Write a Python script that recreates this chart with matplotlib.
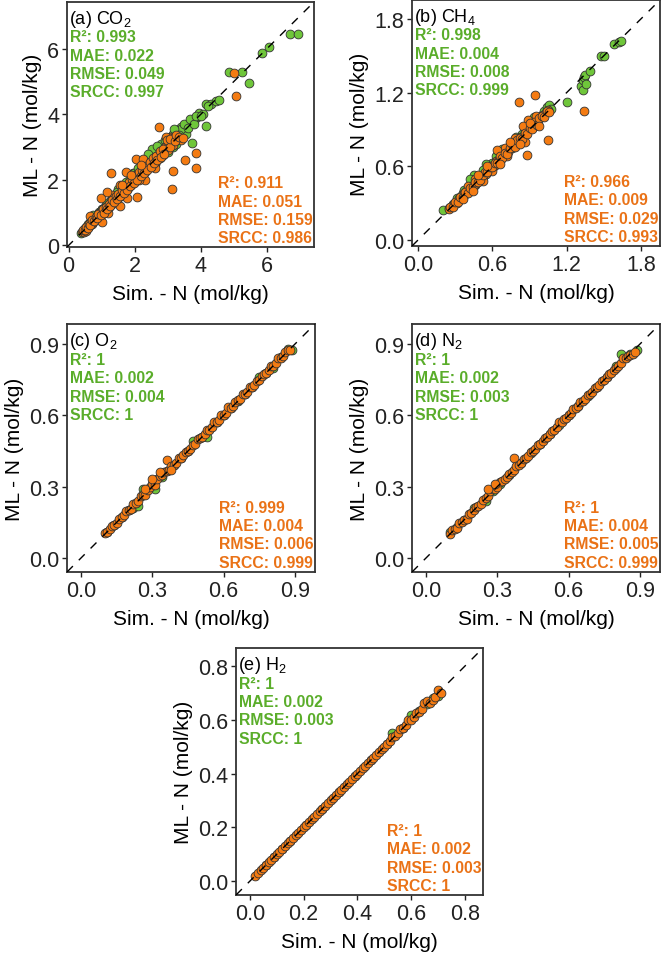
import numpy as np
import matplotlib
matplotlib.use("Agg")
import matplotlib.pyplot as plt

plt.rcParams["font.family"] = ["Liberation Sans", "DejaVu Sans"]
plt.rcParams["mathtext.fontset"] = "custom"
plt.rcParams["mathtext.rm"] = "Liberation Sans"
plt.rcParams["mathtext.it"] = "Liberation Sans:italic"
plt.rcParams["mathtext.bf"] = "Liberation Sans:bold"

# ---- data: (simulated, ML) pairs ----
co2_train = [(0.38, 0.38), (0.42, 0.44), (0.45, 0.48), (0.50, 0.52), (0.55, 0.60), (0.60, 0.66),
             (0.65, 0.72), (0.68, 0.78), (0.72, 0.80), (0.78, 0.85), (0.82, 0.93), (0.88, 0.95),
             (0.92, 1.02), (0.98, 1.05), (1.02, 1.10), (1.08, 1.15), (1.12, 1.22), (1.18, 1.25),
             (1.22, 1.30), (1.28, 1.38), (1.35, 1.42), (1.40, 1.50), (1.45, 1.52), (1.52, 1.62),
             (1.58, 1.65), (1.62, 1.72), (1.70, 1.78), (1.75, 1.85), (1.82, 1.90), (1.88, 1.98),
             (1.95, 2.05), (2.00, 2.10), (2.08, 2.18), (2.15, 2.22), (2.20, 2.32), (2.28, 2.38),
             (2.35, 2.45), (2.40, 2.52), (2.48, 2.58), (2.55, 2.65), (2.62, 2.72), (2.70, 2.80),
             (2.75, 2.85), (2.82, 2.92), (2.90, 2.98), (2.95, 3.05), (3.02, 3.12), (3.10, 3.20),
             (3.18, 3.25), (3.25, 3.30), (3.30, 3.42), (3.38, 3.48), (3.45, 3.55), (3.50, 3.60),
             (3.58, 3.68), (3.65, 3.72), (3.72, 3.82), (3.80, 3.80), (3.88, 3.90), (3.95, 4.05),
             (4.05, 4.02), (4.15, 4.30), (4.15, 3.65), (4.30, 4.30), (4.45, 4.40), (4.55, 4.42),
             (4.85, 5.30), (5.25, 5.30), (5.45, 4.95), (5.85, 5.88), (6.05, 6.05), (6.70, 6.45),
             (6.95, 6.45), (0.75, 0.92), (1.05, 1.00), (1.50, 1.72), (1.95, 2.20), (2.45, 2.45),
             (2.65, 2.92), (2.85, 2.75), (3.15, 3.00), (3.40, 3.62), (3.72, 3.12), (2.30, 2.55),
             (2.60, 2.48), (3.00, 2.85), (3.55, 3.40), (1.00, 1.12), (1.15, 1.28), (1.30, 1.45),
             (1.45, 1.62), (1.60, 1.78), (1.72, 1.92), (1.85, 2.05), (1.98, 2.22), (2.10, 2.35),
             (2.22, 2.48), (2.35, 2.62), (2.48, 2.75), (2.58, 2.88), (2.70, 3.00), (2.80, 3.10),
             (2.92, 3.22), (3.05, 3.30), (3.15, 3.40), (3.28, 3.52), (3.40, 3.55), (3.50, 3.70),
             (3.62, 3.58), (3.68, 3.85), (3.78, 3.70), (3.85, 3.95), (2.52, 2.95), (2.68, 3.02),
             (2.40, 2.80), (3.20, 3.55), (3.35, 3.35), (4.00, 3.95), (4.20, 4.25), (3.25, 3.10),
             (2.75, 2.65), (2.05, 2.00), (1.40, 1.35), (0.55, 0.52), (0.70, 0.68), (0.85, 0.90),
             (0.95, 0.98)]
co2_test = [(0.40, 0.42), (0.45, 0.40), (0.50, 0.50), (0.52, 0.45), (0.58, 0.55), (0.62, 0.60),
            (0.68, 0.72), (0.70, 0.65), (0.75, 0.70), (0.80, 0.82), (0.85, 0.80), (0.88, 0.92),
            (0.92, 0.88), (0.95, 1.00), (1.00, 0.95), (1.02, 1.05), (1.08, 1.02), (1.10, 1.15),
            (1.15, 1.10), (1.18, 1.22), (1.22, 1.18), (1.25, 1.30), (1.30, 1.25), (1.35, 1.35),
            (1.40, 1.45), (1.42, 1.38), (1.48, 1.50), (1.52, 1.48), (1.58, 1.62), (1.62, 1.55),
            (1.65, 1.70), (1.70, 1.68), (1.75, 1.80), (1.80, 1.75), (1.85, 1.90), (1.90, 1.85),
            (1.95, 2.00), (2.00, 1.95), (2.05, 2.10), (2.10, 2.05), (2.15, 2.20), (2.20, 2.15),
            (2.25, 2.35), (2.30, 2.25), (2.40, 2.45), (2.50, 2.55), (2.60, 2.50), (2.70, 2.75),
            (2.80, 2.85), (2.90, 3.00), (3.00, 3.10), (3.10, 3.30), (3.20, 3.30), (3.30, 3.25),
            (3.40, 3.20), (1.75, 1.45), (1.30, 1.55), (1.55, 1.85), (2.30, 2.00), (2.60, 2.35),
            (3.00, 2.90), (2.12, 2.00), (3.17, 3.05), (2.72, 3.60), (1.27, 2.22), (3.12, 1.71),
            (3.85, 2.36), (3.84, 2.82), (3.52, 2.60), (3.15, 2.28), (2.07, 1.46), (0.97, 1.43),
            (2.05, 2.63), (5.07, 4.55), (5.00, 5.25), (1.72, 2.25), (1.15, 1.62), (1.55, 1.20),
            (2.25, 2.62), (1.00, 0.70), (2.95, 3.30), (0.65, 0.90), (1.20, 1.00),
            (0.43, 0.47), (0.48, 0.46), (0.53, 0.56), (0.57, 0.52), (0.63, 0.66), (0.66, 0.61),
            (0.72, 0.76), (0.77, 0.74), (0.83, 0.86), (0.86, 0.83), (0.90, 0.96), (0.97, 0.93),
            (1.04, 1.10), (1.06, 0.99), (1.12, 1.18), (1.16, 1.12), (1.21, 1.27), (1.26, 1.21),
            (1.32, 1.38), (1.37, 1.31), (1.43, 1.50), (1.46, 1.42), (1.50, 1.58), (1.56, 1.52),
            (1.61, 1.68), (1.66, 1.60), (1.72, 1.78), (1.77, 1.70), (1.83, 1.92), (1.87, 1.80),
            (1.92, 2.02), (1.97, 1.90), (2.03, 2.15), (2.08, 2.00), (2.13, 2.25), (2.18, 2.10),
            (2.22, 2.30), (2.28, 2.20), (2.35, 2.42), (2.38, 2.30), (2.45, 2.55), (2.48, 2.40),
            (2.55, 2.65), (2.58, 2.50), (2.65, 2.72), (2.68, 2.60), (2.75, 2.88), (2.78, 2.70),
            (2.85, 2.95), (2.88, 2.80), (2.98, 3.20), (3.05, 3.00), (3.08, 3.25), (3.22, 3.18),
            (3.25, 3.35), (3.35, 3.30), (3.45, 3.28), (2.20, 2.45), (1.90, 2.15), (1.60, 1.85)]

ch4_train = [(0.20, 0.24), (0.25, 0.26), (0.28, 0.29), (0.30, 0.30), (0.32, 0.33), (0.34, 0.34),
             (0.35, 0.36), (0.36, 0.38), (0.38, 0.37), (0.40, 0.41), (0.42, 0.43), (0.44, 0.46),
             (0.45, 0.53), (0.46, 0.45), (0.48, 0.50), (0.50, 0.52), (0.52, 0.51), (0.54, 0.56),
             (0.56, 0.58), (0.58, 0.57), (0.60, 0.63), (0.62, 0.61), (0.64, 0.66), (0.66, 0.67),
             (0.68, 0.70), (0.70, 0.69), (0.72, 0.74), (0.74, 0.77), (0.76, 0.75), (0.78, 0.80),
             (0.80, 0.82), (0.82, 0.81), (0.84, 0.86), (0.86, 0.88), (0.88, 0.90), (0.90, 0.92),
             (0.92, 0.94), (0.95, 0.97), (0.98, 1.00), (1.00, 1.02), (1.02, 1.05), (1.04, 1.08),
             (1.06, 1.10), (1.07, 1.07), (1.20, 1.12), (1.32, 1.25), (1.33, 1.22), (1.33, 1.30),
             (1.34, 1.33), (1.35, 1.34), (1.36, 1.27), (1.39, 1.38), (1.48, 1.50), (1.50, 1.50),
             (1.58, 1.60), (1.62, 1.61), (1.64, 1.62), (0.42, 0.50), (0.55, 0.62), (0.68, 0.74),
             (0.31, 0.34), (0.37, 0.41), (0.52, 0.57), (0.63, 0.68), (0.79, 0.84), (0.94, 1.00)]
ch4_test = [(0.25, 0.25), (0.27, 0.28), (0.29, 0.29), (0.31, 0.30), (0.33, 0.34), (0.35, 0.34),
            (0.37, 0.38), (0.39, 0.40), (0.41, 0.40), (0.43, 0.44), (0.45, 0.45), (0.47, 0.46),
            (0.49, 0.50), (0.51, 0.52), (0.53, 0.53), (0.55, 0.54), (0.57, 0.58), (0.59, 0.60),
            (0.61, 0.60), (0.63, 0.64), (0.65, 0.66), (0.67, 0.66), (0.69, 0.70), (0.71, 0.72),
            (0.73, 0.72), (0.75, 0.76), (0.77, 0.78), (0.79, 0.78), (0.81, 0.82), (0.83, 0.84),
            (0.85, 0.84), (0.87, 0.88), (0.89, 0.90), (0.91, 0.92), (0.93, 0.95), (0.95, 0.96),
            (0.97, 0.98), (0.99, 1.00), (1.01, 1.02), (1.03, 1.04), (1.05, 1.06), (0.46, 0.50),
            (0.52, 0.48), (0.60, 0.56), (0.70, 0.75), (0.78, 0.83), (0.86, 0.80), (0.89, 0.98),
            (0.93, 0.92), (0.88, 0.90), (0.95, 1.01), (0.948, 1.18), (0.818, 1.12), (1.34, 1.05),
            (1.05, 0.81), (0.877, 0.69), (0.64, 0.73), (0.72, 0.68), (0.85, 0.93), (0.40, 0.44),
            (0.26, 0.27), (0.28, 0.27), (0.30, 0.31), (0.32, 0.31), (0.34, 0.35), (0.36, 0.35),
            (0.38, 0.39), (0.40, 0.38), (0.42, 0.42), (0.44, 0.43), (0.46, 0.47), (0.48, 0.47),
            (0.50, 0.49), (0.52, 0.53), (0.54, 0.55), (0.56, 0.55), (0.58, 0.59), (0.60, 0.59),
            (0.62, 0.63), (0.64, 0.63), (0.66, 0.68), (0.68, 0.67), (0.70, 0.71), (0.72, 0.70),
            (0.74, 0.75), (0.76, 0.78), (0.78, 0.76), (0.80, 0.81), (0.82, 0.83), (0.84, 0.82),
            (0.86, 0.87), (0.88, 0.86), (0.90, 0.91), (0.92, 0.90), (0.94, 0.96), (0.96, 0.94),
            (0.98, 0.99), (1.00, 1.01), (1.02, 1.00), (1.04, 1.05), (1.06, 1.04), (0.48, 0.53),
            (0.56, 0.60), (0.66, 0.62), (0.74, 0.80), (0.82, 0.78), (0.90, 0.95), (0.98, 0.93),
            (0.44, 0.40), (0.36, 0.33)]

o2_train = [(0.11, 0.11), (0.14, 0.14), (0.17, 0.17), (0.20, 0.20), (0.22, 0.21), (0.23, 0.23),
            (0.26, 0.29), (0.27, 0.28), (0.30, 0.30), (0.34, 0.34), (0.39, 0.39), (0.42, 0.42),
            (0.45, 0.45), (0.47, 0.49), (0.51, 0.51), (0.53, 0.51), (0.57, 0.57), (0.60, 0.60),
            (0.63, 0.63), (0.66, 0.66), (0.69, 0.69), (0.72, 0.72), (0.75, 0.76), (0.78, 0.78),
            (0.81, 0.80), (0.84, 0.845), (0.87, 0.88), (0.89, 0.875), (0.24, 0.22), (0.31, 0.29)]
o2_test = [(0.10, 0.105), (0.11, 0.11), (0.12, 0.12), (0.13, 0.135), (0.14, 0.14), (0.15, 0.145),
           (0.16, 0.165), (0.17, 0.17), (0.18, 0.18), (0.19, 0.195), (0.20, 0.20), (0.21, 0.205),
           (0.22, 0.225), (0.23, 0.23), (0.24, 0.24), (0.25, 0.26), (0.26, 0.265), (0.27, 0.265),
           (0.28, 0.285), (0.29, 0.30), (0.30, 0.31), (0.31, 0.305), (0.32, 0.33), (0.33, 0.345),
           (0.34, 0.35), (0.35, 0.36), (0.36, 0.41), (0.36, 0.365), (0.37, 0.37), (0.38, 0.385),
           (0.39, 0.39), (0.40, 0.40), (0.41, 0.42), (0.42, 0.42), (0.43, 0.435), (0.44, 0.445),
           (0.45, 0.45), (0.46, 0.46), (0.47, 0.475), (0.48, 0.48), (0.49, 0.50), (0.50, 0.505),
           (0.51, 0.51), (0.52, 0.52), (0.53, 0.54), (0.54, 0.54), (0.55, 0.55), (0.56, 0.57),
           (0.57, 0.57), (0.58, 0.58), (0.59, 0.60), (0.60, 0.60), (0.61, 0.61), (0.62, 0.635),
           (0.63, 0.63), (0.64, 0.64), (0.65, 0.655), (0.66, 0.665), (0.67, 0.67), (0.68, 0.69),
           (0.69, 0.69), (0.70, 0.70), (0.71, 0.72), (0.72, 0.72), (0.73, 0.73), (0.74, 0.745),
           (0.75, 0.75), (0.76, 0.765), (0.77, 0.775), (0.78, 0.78), (0.79, 0.79), (0.80, 0.81),
           (0.81, 0.81), (0.82, 0.82), (0.83, 0.84), (0.84, 0.84), (0.85, 0.85), (0.86, 0.865),
           (0.87, 0.875), (0.88, 0.875), (0.30, 0.33), (0.33, 0.36), (0.27, 0.29), (0.38, 0.37)]

n2_train = [(0.10, 0.11), (0.13, 0.13), (0.16, 0.16), (0.20, 0.21), (0.25, 0.24), (0.28, 0.28),
            (0.31, 0.31), (0.35, 0.35), (0.40, 0.40), (0.44, 0.44), (0.48, 0.48), (0.52, 0.52),
            (0.56, 0.56), (0.60, 0.60), (0.64, 0.64), (0.68, 0.68), (0.72, 0.72), (0.76, 0.76),
            (0.80, 0.81), (0.82, 0.86), (0.86, 0.86), (0.89, 0.875)]
n2_test = [(0.10, 0.10), (0.11, 0.115), (0.12, 0.12), (0.13, 0.125), (0.14, 0.145), (0.15, 0.15),
           (0.16, 0.16), (0.17, 0.165), (0.18, 0.185), (0.19, 0.19), (0.20, 0.20), (0.21, 0.215),
           (0.22, 0.22), (0.23, 0.225), (0.24, 0.245), (0.25, 0.25), (0.26, 0.26), (0.27, 0.28),
           (0.28, 0.29), (0.29, 0.29), (0.30, 0.30), (0.31, 0.32), (0.32, 0.325), (0.33, 0.33),
           (0.34, 0.34), (0.35, 0.355), (0.36, 0.36), (0.37, 0.42), (0.37, 0.37), (0.38, 0.385),
           (0.39, 0.39), (0.40, 0.40), (0.41, 0.415), (0.42, 0.42), (0.43, 0.43), (0.44, 0.445),
           (0.45, 0.45), (0.46, 0.46), (0.47, 0.475), (0.48, 0.48), (0.49, 0.49), (0.50, 0.505),
           (0.51, 0.51), (0.52, 0.52), (0.53, 0.535), (0.54, 0.54), (0.55, 0.55), (0.56, 0.57),
           (0.57, 0.57), (0.58, 0.585), (0.59, 0.59), (0.60, 0.60), (0.61, 0.61), (0.62, 0.625),
           (0.63, 0.63), (0.64, 0.64), (0.65, 0.655), (0.66, 0.66), (0.67, 0.67), (0.68, 0.685),
           (0.69, 0.69), (0.70, 0.70), (0.71, 0.715), (0.72, 0.72), (0.73, 0.73), (0.74, 0.745),
           (0.75, 0.75), (0.76, 0.76), (0.77, 0.775), (0.78, 0.78), (0.79, 0.79), (0.80, 0.80),
           (0.81, 0.81), (0.82, 0.82), (0.83, 0.84), (0.84, 0.84), (0.85, 0.85), (0.86, 0.855),
           (0.87, 0.86), (0.88, 0.865), (0.26, 0.29), (0.29, 0.31)]

h2_train = [(0.06, 0.06), (0.09, 0.09), (0.12, 0.12), (0.15, 0.15), (0.21, 0.21), (0.27, 0.27),
            (0.33, 0.33), (0.39, 0.39), (0.45, 0.45), (0.51, 0.51), (0.53, 0.55), (0.57, 0.57),
            (0.60, 0.62), (0.63, 0.635), (0.66, 0.66), (0.68, 0.68), (0.70, 0.69)]
h2_test = [(0.02, 0.02), (0.03, 0.03), (0.04, 0.04), (0.05, 0.05), (0.06, 0.06), (0.07, 0.07),
           (0.08, 0.08), (0.09, 0.09), (0.10, 0.10), (0.11, 0.11), (0.12, 0.12), (0.13, 0.13),
           (0.14, 0.14), (0.15, 0.15), (0.16, 0.16), (0.17, 0.17), (0.18, 0.18), (0.19, 0.19),
           (0.20, 0.20), (0.21, 0.21), (0.22, 0.22), (0.23, 0.23), (0.24, 0.24), (0.25, 0.25),
           (0.26, 0.26), (0.27, 0.27), (0.28, 0.28), (0.29, 0.29), (0.30, 0.30), (0.31, 0.31),
           (0.32, 0.32), (0.33, 0.33), (0.34, 0.34), (0.35, 0.35), (0.36, 0.36), (0.37, 0.37),
           (0.38, 0.38), (0.39, 0.39), (0.40, 0.40), (0.41, 0.41), (0.42, 0.42), (0.43, 0.43),
           (0.44, 0.44), (0.45, 0.45), (0.46, 0.46), (0.47, 0.47), (0.48, 0.48), (0.49, 0.49),
           (0.50, 0.50), (0.51, 0.51), (0.52, 0.52), (0.53, 0.535), (0.54, 0.54), (0.55, 0.55),
           (0.56, 0.565), (0.57, 0.57), (0.58, 0.58), (0.59, 0.60), (0.60, 0.60), (0.61, 0.61),
           (0.62, 0.625), (0.63, 0.63), (0.64, 0.64), (0.65, 0.665), (0.66, 0.67), (0.67, 0.665),
           (0.68, 0.675), (0.69, 0.685), (0.70, 0.71), (0.71, 0.70)]

titles = ["(a) CO$_2$", "(b) CH$_4$", "(c) O$_2$", "(d) N$_2$", "(e) H$_2$"]
train_stats = [("0.993", "0.022", "0.049", "0.997"),
               ("0.998", "0.004", "0.008", "0.999"),
               ("1", "0.002", "0.004", "1"),
               ("1", "0.002", "0.003", "1"),
               ("1", "0.002", "0.003", "1")]
test_stats = [("0.911", "0.051", "0.159", "0.986"),
              ("0.966", "0.009", "0.029", "0.993"),
              ("0.999", "0.004", "0.006", "0.999"),
              ("1", "0.004", "0.005", "0.999"),
              ("1", "0.002", "0.003", "1")]
limits = [(-0.05, 7.42), (-0.05, 1.955), (-0.06, 0.985), (-0.06, 0.985), (-0.052, 0.868)]
ticks = [[0, 2, 4, 6], [0.0, 0.6, 1.2, 1.8], [0.0, 0.3, 0.6, 0.9], [0.0, 0.3, 0.6, 0.9],
         [0.0, 0.2, 0.4, 0.6, 0.8]]
tick_fmt = ["{:.0f}", "{:.1f}", "{:.1f}", "{:.1f}", "{:.1f}"]
train_sets = [co2_train, ch4_train, o2_train, n2_train, h2_train]
test_sets = [co2_test, ch4_test, o2_test, n2_test, h2_test]

green_pt, green_txt = "#6fc63a", "#5aad2a"
orange_pt, orange_txt = "#f47b12", "#ea7216"

W, H = 661, 954
# axes boxes in pixels: left, top, right, bottom
boxes = [(67, 3, 314, 248), (412, 1, 660, 247),
         (67, 325, 315, 573), (412, 325, 660, 573),
         (236, 649, 483, 896)]

fig = plt.figure(figsize=(W / 100, H / 100), dpi=100)

for i in range(5):
    l, t, r, b = boxes[i]
    ax = fig.add_axes([l / W, 1 - b / H, (r - l) / W, (b - t) / H])
    tr = np.array(train_sets[i])
    te = np.array(test_sets[i])
    ax.scatter(tr[:, 0], tr[:, 1], s=40, c=green_pt, edgecolors="#333333", linewidths=0.6, zorder=3)
    ax.scatter(te[:, 0], te[:, 1], s=40, c=orange_pt, edgecolors="#333333", linewidths=0.6, zorder=4)
    ax.axline((0, 0), (1, 1), color="black", lw=1.0, ls=(0, (6, 6)), zorder=5)

    lo, hi = limits[i]
    ax.set_xlim(lo, hi)
    ax.set_ylim(lo, hi)
    ax.set_xticks(ticks[i])
    ax.set_yticks(ticks[i])
    ax.set_xticklabels([tick_fmt[i].format(v) for v in ticks[i]])
    ax.set_yticklabels([tick_fmt[i].format(v) for v in ticks[i]])
    ax.tick_params(direction="out", length=3.5, width=1.0, labelsize=15.5, pad=2, colors="#222222")
    for sp in ax.spines.values():
        sp.set_linewidth(1.3)
        sp.set_color("#333333")
    ax.set_xlabel("Sim. - N (mol/kg)", fontsize=15, labelpad=6)
    ax.set_ylabel("ML - N (mol/kg)", fontsize=15, labelpad=4)

    ax.text(0.01, 0.932, titles[i], transform=ax.transAxes, fontsize=13, ha="left", va="center",
            zorder=6)
    names = ["R²: ", "MAE: ", "RMSE: ", "SRCC: "]
    for k in range(4):
        ax.text(0.012, 0.858 - 0.0745 * k, names[k] + train_stats[i][k], transform=ax.transAxes,
                fontsize=11.3, fontweight="bold", color=green_txt, ha="left", va="center", zorder=6)
        ax.text(0.612, 0.262 - 0.0745 * k, names[k] + test_stats[i][k], transform=ax.transAxes,
                fontsize=11.3, fontweight="bold", color=orange_txt, ha="left", va="center", zorder=6)

fig.savefig("out.png", dpi=100)
